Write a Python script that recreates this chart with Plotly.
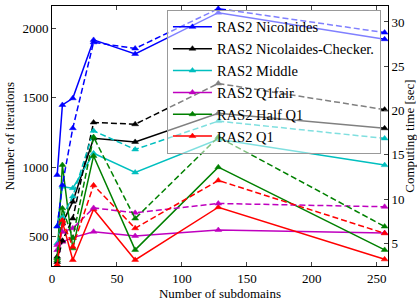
import plotly.graph_objects as go

subdomains = [4, 8, 16, 32, 64, 128, 256]

names = ["RAS2 Nicolaides", "RAS2 Nicolaides-Checker.", "RAS2 Middle",
         "RAS2 Q1fair", "RAS2 Half Q1", "RAS2 Q1"]
colors = ["#0000ff", "#000000", "#00bfbf", "#bf00bf", "#008000", "#ff0000"]

# iterations (solid, left axis)
it_nic = [944, 1448, 1496, 1916, 1815, 2112, 1921]
it_nicc = [356, 596, 752, 1208, 1182, 1388, 1280]
it_mid = [575, 860, 849, 1100, 962, 1201, 1015]
it_q1fair = [404, 463, 493, 536, 505, 548, 527]
it_half = [345, 1016, 416, 1081, 405, 1000, 405]
it_q1 = [297, 608, 332, 697, 333, 712, 337]

# computing time (dashed, right axis)
t_nic = [6.9, 11.6, 18.0, 27.7, 27.0, 31.5, 28.8]
t_nicc = [2.9, 5.3, 7.8, 18.65, 18.45, 23.05, 20.1]
t_mid = [5.0, 8.0, 10.3, 17.7, 15.6, 18.8, 16.85]
t_q1fair = [4.8, 6.3, 6.7, 9.0, 8.45, 9.5, 9.13]
t_half = [3.1, 8.95, 5.6, 17.0, 7.8, 17.0, 6.9]
t_q1 = [2.55, 7.6, 4.6, 11.55, 6.7, 12.1, 6.13]

iters = [it_nic, it_nicc, it_mid, it_q1fair, it_half, it_q1]
times = [t_nic, t_nicc, t_mid, t_q1fair, t_half, t_q1]

FONT = "'Liberation Serif', 'Times New Roman', 'DejaVu Serif', serif"

fig = go.Figure()
for i, (name, c, yv) in enumerate(zip(names, colors, iters)):
    fig.add_trace(go.Scatter(
        x=subdomains, y=yv, name=name, mode="lines+markers",
        legendgroup="g%d" % i,
        line=dict(color=c, width=1.5),
        marker=dict(symbol="triangle-up", size=6, color=c,
                    line=dict(color=c, width=0.5)),
        yaxis="y"))
for i, (name, c, yv) in enumerate(zip(names, colors, times)):
    fig.add_trace(go.Scatter(
        x=subdomains, y=yv, name=name + " time", mode="lines+markers",
        showlegend=False, legendgroup="g%d" % i,
        line=dict(color=c, width=1.5, dash="6px,3px"),
        marker=dict(symbol="triangle-up", size=6, color=c,
                    line=dict(color=c, width=0.5)),
        yaxis="y2"))

fig.update_layout(
    width=417, height=303,
    margin=dict(l=52, r=29, t=6, b=37, autoexpand=False),
    paper_bgcolor="white", plot_bgcolor="white",
    font=dict(family=FONT, size=12, color="#000000"),
    showlegend=True,
    legend=dict(x=0.979, y=0.985, xanchor="right", yanchor="top",
                bgcolor="rgba(255,255,255,0.5)", bordercolor="#999999",
                borderwidth=1, font=dict(family=FONT, size=14.5),
                itemwidth=39, tracegroupgap=0, groupclick="toggleitem"),
    xaxis=dict(range=[0, 258.6], tickvals=[0, 50, 100, 150, 200, 250],
               ticks="inside", ticklen=4, showline=True, linecolor="black",
               linewidth=1, mirror="ticks", showgrid=False, zeroline=False,
               automargin=False,
               title=dict(text="Number of subdomains", standoff=0,
                          font=dict(size=13)),
               tickfont=dict(size=13)),
    yaxis=dict(range=[289, 2160], tickvals=[500, 1000, 1500, 2000],
               ticks="inside", ticklen=4, showline=True, linecolor="black",
               linewidth=1, showgrid=False, zeroline=False, automargin=False,
               title=dict(text="Number of iterations", standoff=4,
                          font=dict(size=13)),
               tickfont=dict(size=13)),
    yaxis2=dict(range=[2.44, 31.8], tickvals=[5, 10, 15, 20, 25, 30],
                overlaying="y", side="right", automargin=False,
                ticks="inside", ticklen=4, showline=True, linecolor="black",
                linewidth=1, showgrid=False, zeroline=False,
                title=dict(text="Computing time [sec]", standoff=2,
                           font=dict(size=13)),
                tickfont=dict(size=13)),
)

fig.write_html("out.html",
               config={"displayModeBar": False},
               post_script="document.body.style.margin='0';"
                           "document.body.style.padding='0';")
